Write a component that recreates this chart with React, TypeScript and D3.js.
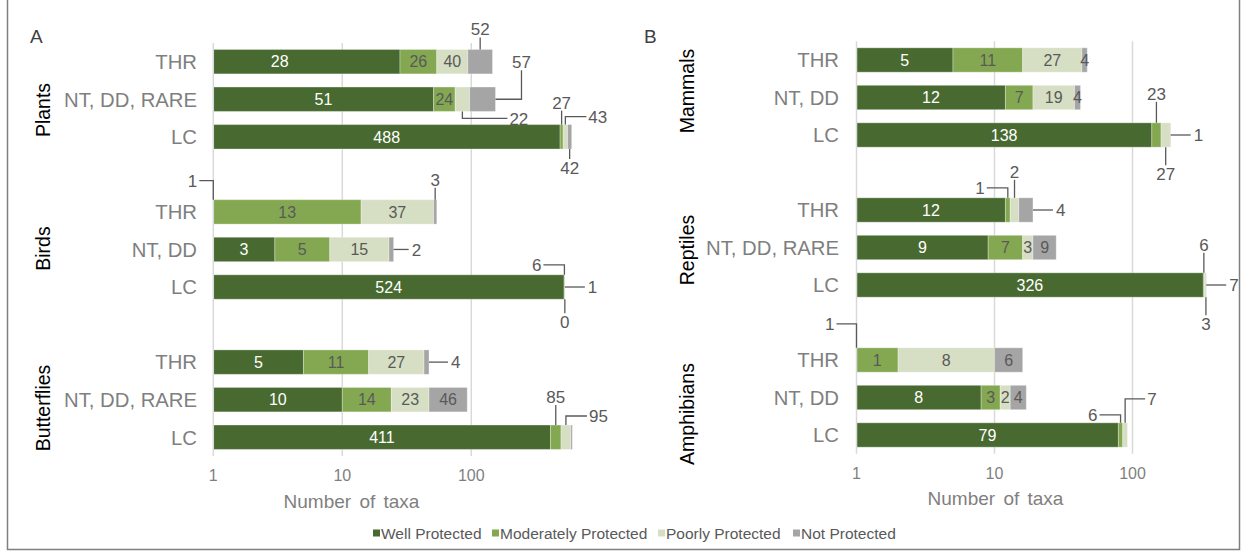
import React from "react";
import * as d3 from "d3";

// ---------- DATA ----------
const seriesNames = ["Well Protected", "Moderately Protected", "Poorly Protected", "Not Protected"];
const seriesColors = ["#486A31", "#84A852", "#D6DFC3", "#A5A5A5"];

const groupsA = ["Plants", "Birds", "Butterflies"];
const rowsA = ["THR", "NT, DD, RARE", "LC", "THR", "NT, DD", "LC", "THR", "NT, DD, RARE", "LC"];
const wellA = [28, 51, 488, 1, 3, 524, 5, 10, 411];
const moderateA = [26, 24, 27, 13, 5, 6, 11, 14, 85];
const poorlyA = [40, 22, 43, 37, 15, 1, 27, 23, 95];
const notA = [52, 57, 42, 3, 2, 0, 4, 46, 16];

const groupsB = ["Mammals", "Reptiles", "Amphibians"];
const rowsB = ["THR", "NT, DD", "LC", "THR", "NT, DD, RARE", "LC", "THR", "NT, DD", "LC"];
const wellB = [5, 12, 138, 12, 9, 326, 1, 8, 79];
const moderateB = [11, 7, 23, 1, 7, 6, 1, 3, 6];
const poorlyB = [27, 19, 27, 2, 3, 7, 8, 2, 7];
const notB = [4, 4, 1, 4, 9, 3, 6, 4, 0];

const tickValues = [1, 10, 100];
const gridValues = [10, 100];
const axisTitle = "Number of taxa";

// callouts: [row, series, anchor, vertical leg, horizontal leg]
type Callout = [number, number, string, number, number];
const calloutsA: Callout[] = [
  [0, 3, "top", -12, 0],
  [1, 2, "bottom", 7, 45],
  [1, 3, "right", -29, 26],
  [2, 1, "top", -14, 0],
  [2, 2, "top", -8, 21],
  [2, 3, "bottom", 10, 0],
  [3, 0, "top", -19, -14],
  [3, 3, "top", -12, 0],
  [4, 3, "right", 0, 15],
  [5, 1, "top", -10, -21],
  [5, 2, "right", 0, 20],
  [5, 3, "bottom", 14, 0],
  [6, 3, "right", 0, 19],
  [8, 1, "top", -20, 0],
  [8, 2, "top", -9, 21],
];
const calloutsB: Callout[] = [
  [2, 1, "top", -21, 0],
  [2, 2, "bottom", 18, 0],
  [2, 3, "right", 0, 20],
  [3, 1, "top", -10, -21],
  [3, 2, "top", -18, 0],
  [3, 3, "right", 0, 20],
  [5, 1, "top", -20, 0],
  [5, 2, "right", 0, 20],
  [5, 3, "bottom", 18, 0],
  [6, 0, "top", -24, -20],
  [8, 1, "top", -8, -21],
  [8, 2, "top", -24, 20],
];
const hiddenA = [[8, 3]];
const hiddenB = [[8, 3]];
const shiftA = [[0, 0, -27]];
const shiftB: number[][] = [];

// ---------- STYLE ----------
const NARROW = "'Liberation Sans Narrow', 'Arial Narrow', 'Liberation Sans', Arial, sans-serif";
const SANS = "'Liberation Sans', Arial, sans-serif";
const GRAY = "#7F7F7F";
const DARK = "#595959";

const slots = ["0", "1", "2", "g1", "3", "4", "5", "g2", "6", "7", "8"];

type PanelCfg = {
  letter: string;
  letterX: number;
  x0: number;
  decade: number;
  top: number;
  bottom: number;
  labelRight: number;
  groupX: number;
  groupY: number[];
  titleX: number;
  titleDy: number;
  groups: string[];
  rows: string[];
  series: number[][];
  callouts: Callout[];
  hidden: number[][];
  shifts: number[][];
};

function Panel({ cfg }: { cfg: PanelCfg }) {
  const x = d3.scaleLog().domain([1, 1000]).range([cfg.x0, cfg.x0 + 3 * cfg.decade]);
  const y = d3
    .scaleBand<string>()
    .domain(slots)
    .range([cfg.top, cfg.bottom])
    .paddingInner(0.35)
    .paddingOuter(0.175);
  const bw = y.bandwidth();

  const rowsData = cfg.rows.map((label, r) => {
    const vals = cfg.series.map((s) => s[r]);
    let cum = 0;
    const segs = vals.map((v, i) => {
      const start = i === 0 ? 1 : cum;
      cum += v;
      const end = cum;
      const x1 = x(Math.max(start, 1));
      const x2 = x(Math.max(end, 1));
      return { v, i, x1, x2, cx: (x1 + x2) / 2 };
    });
    const yTop = y(String(r)) as number;
    return { label, r, segs, yTop, yBot: yTop + bw, cy: yTop + bw / 2, end: x(cum) };
  });

  const isCallout = (r: number, s: number) => cfg.callouts.some((c) => c[0] === r && c[1] === s);
  const isHidden = (r: number, s: number) => cfg.hidden.some((c) => c[0] === r && c[1] === s);
  const shiftOf = (r: number, s: number) => {
    const f = cfg.shifts.find((c) => c[0] === r && c[1] === s);
    return f ? f[2] : 0;
  };

  return (
    <g>
      <text x={cfg.letterX} y={43} fontFamily={SANS} fontSize={19} fill="#404040">
        {cfg.letter}
      </text>
      {gridValues.map((g) => (
        <line key={g} x1={x(g)} x2={x(g)} y1={cfg.top} y2={cfg.bottom} stroke="#D9D9D9" strokeWidth={1.5} />
      ))}
      {rowsData.map((row) =>
        row.segs.map((sg) =>
          sg.x2 - sg.x1 > 0 ? (
            <rect
              key={`${row.r}-${sg.i}`}
              x={sg.x1}
              y={row.yTop}
              width={sg.x2 - sg.x1}
              height={bw}
              fill={seriesColors[sg.i]}
              stroke="#ffffff"
              strokeOpacity={0.3}
              strokeWidth={1}
            />
          ) : null
        )
      )}
      <line x1={cfg.x0} x2={cfg.x0} y1={cfg.top} y2={cfg.bottom} stroke="#D9D9D9" strokeWidth={1.5} />
      {rowsData.map((row) =>
        row.segs.map((sg) =>
          !isCallout(row.r, sg.i) && !isHidden(row.r, sg.i) ? (
            <text
              key={`l${row.r}-${sg.i}`}
              x={sg.cx + shiftOf(row.r, sg.i)}
              y={row.cy}
              dy="0.36em"
              textAnchor="middle"
              fontFamily={NARROW}
              fontSize={16}
              fill={sg.i === 0 ? "#ffffff" : DARK}
            >
              {sg.v}
            </text>
          ) : null
        )
      )}
      {cfg.callouts.map((c, k) => {
        const [r, s, anchor, v, h] = c;
        const row = rowsData[r];
        const sg = row.segs[s];
        let path = "";
        let tx = 0,
          ty = 0,
          ta = "middle",
          dy = "0";
        if (anchor === "top" || anchor === "bottom") {
          const sx = sg.cx;
          const sy = anchor === "top" ? row.yTop : row.yBot;
          const ey = sy + v;
          path = `M${sx},${sy}V${ey}` + (h ? `H${sx + h}` : "");
          if (h > 0) {
            tx = sx + h + 2; ty = ey; ta = "start"; dy = "0.36em";
          } else if (h < 0) {
            tx = sx + h - 2; ty = ey; ta = "end"; dy = "0.36em";
          } else if (v < 0) {
            tx = sx; ty = ey - 2; ta = "middle";
          } else {
            tx = sx; ty = ey + 15; ta = "middle";
          }
        } else {
          const sx = row.end;
          const sy = row.cy;
          const ex = sx + h;
          path = `M${sx},${sy}H${ex}` + (v ? `V${sy + v}` : "");
          if (v < 0) {
            tx = ex; ty = sy + v - 2; ta = "middle";
          } else if (v > 0) {
            tx = ex; ty = sy + v + 15; ta = "middle";
          } else {
            tx = ex + 3; ty = sy; ta = "start"; dy = "0.36em";
          }
        }
        return (
          <g key={`c${k}`}>
            <path d={path} fill="none" stroke={DARK} strokeWidth={1.3} />
            <text x={tx} y={ty} dy={dy} textAnchor={ta as any} fontFamily={NARROW} fontSize={17} fill={DARK}>
              {sg.v}
            </text>
          </g>
        );
      })}
      {rowsData.map((row) => (
        <text
          key={`r${row.r}`}
          x={cfg.labelRight}
          y={row.cy}
          dy="0.36em"
          textAnchor="end"
          fontFamily={SANS}
          fontSize={20.3}
          fill={GRAY}
        >
          {row.label}
        </text>
      ))}
      {cfg.groups.map((g, i) => (
        <text
          key={g}
          transform={`translate(${cfg.groupX},${cfg.groupY[i]}) rotate(-90)`}
          textAnchor="middle"
          dy="0.36em"
          fontFamily={SANS}
          fontSize={19.5}
          fill="#000000"
        >
          {g}
        </text>
      ))}
      {tickValues.map((t) => (
        <text
          key={t}
          x={x(t)}
          y={cfg.bottom + 25}
          textAnchor="middle"
          fontFamily={NARROW}
          fontSize={16}
          fill={GRAY}
        >
          {t}
        </text>
      ))}
      <text
        x={cfg.titleX}
        y={cfg.bottom + cfg.titleDy}
        textAnchor="middle"
        fontFamily={SANS}
        fontSize={19}
        wordSpacing={3}
        fill={GRAY}
      >
        {axisTitle}
      </text>
    </g>
  );
}

const legendX = [373, 492, 658, 793];

export default function App() {
  const panelA: PanelCfg = {
    letter: "A",
    letterX: 30,
    x0: 213.3,
    decade: 129,
    top: 42.9,
    bottom: 456,
    labelRight: 197,
    groupX: 43,
    groupY: [110, 248.5, 408],
    titleX: 351.5,
    titleDy: 52,
    groups: groupsA,
    rows: rowsA,
    series: [wellA, moderateA, poorlyA, notA],
    callouts: calloutsA,
    hidden: hiddenA,
    shifts: shiftA,
  };
  const panelB: PanelCfg = {
    letter: "B",
    letterX: 644,
    x0: 856.5,
    decade: 138,
    top: 41.25,
    bottom: 453.75,
    labelRight: 839,
    groupX: 687,
    groupY: [91, 250, 414],
    titleX: 995.5,
    titleDy: 51,
    groups: groupsB,
    rows: rowsB,
    series: [wellB, moderateB, poorlyB, notB],
    callouts: calloutsB,
    hidden: hiddenB,
    shifts: shiftB,
  };
  return (
    <div style={{ position: "absolute", left: 0, top: 0 }}>
      <svg width={1246} height={557} style={{ display: "block", background: "#ffffff" }}>
        <rect x={7.5} y={-2} width={1232} height={551.5} fill="none" stroke="#7F7F7F" strokeWidth={1.5} />
        <Panel cfg={panelA} />
        <Panel cfg={panelB} />
        {seriesNames.map((n, i) => (
          <g key={n}>
            <rect x={legendX[i]} y={529.5} width={7} height={7} fill={seriesColors[i]} />
            <text x={legendX[i] + 8} y={533} dy="0.36em" fontFamily={SANS} fontSize={15.5} fill={DARK}>
              {n}
            </text>
          </g>
        ))}
      </svg>
    </div>
  );
}
